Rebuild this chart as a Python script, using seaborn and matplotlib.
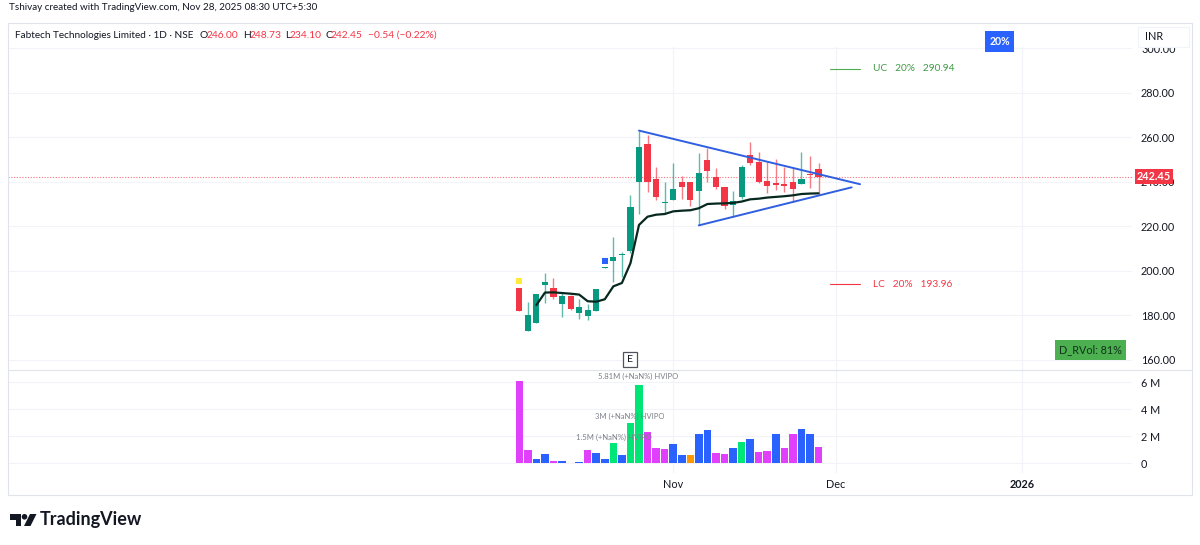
import matplotlib
matplotlib.use("Agg")
import matplotlib.pyplot as plt
from matplotlib.patches import Rectangle, Polygon, Circle
import seaborn as sns
import pandas as pd

sns.set_theme(style="white")
FONT = "Lato"
plt.rcParams["font.family"] = [FONT, "DejaVu Sans"]

opens = [192.2,173.0,176.4,193.9,192.4,185.3,188.6,181.1,179.9,181.9,201.5,204.7,207.2,209.0,239.9,257.2,241.4,230.7,
         231.9,240.0,240.0,236.1,250.0,242.1,237.9,229.5,233.1,252.1,249.1,240.6,239.4,239.1,240.0,239.3,243.8,246.0]
highs = [192.4,185.9,189.5,199.0,197.0,190.7,189.2,187.3,185.2,192.0,201.9,215.1,208.5,234.2,263.0,261.1,246.9,240.2,
         248.7,242.7,240.0,253.0,255.1,246.1,237.9,236.1,247.6,258.1,253.6,248.8,250.2,246.9,246.1,253.3,251.7,248.73]
lows = [182.0,173.0,176.4,185.5,187.3,179.2,182.5,178.6,178.0,181.9,201.4,194.9,197.5,208.2,225.5,235.7,231.9,226.2,
        231.9,232.4,229.2,220.5,240.0,236.7,227.7,224.4,232.2,247.6,239.4,234.9,236.4,235.7,231.2,239.1,237.2,234.10]
closes = [182.2,180.2,189.5,194.9,188.2,188.6,182.8,184.0,182.5,192.0,201.8,206.2,207.5,228.8,255.6,239.9,233.1,231.0,
          236.7,237.8,232.1,244.2,244.9,237.9,229.2,231.6,246.6,248.4,240.2,238.2,238.7,238.4,236.9,241.2,243.0,242.45]
vwap_start = 2
vwap = [184.7,190.3,190.4,190.1,189.8,189.4,186.4,186.2,187.3,193.1,194.6,203.5,220.7,224.4,225.3,225.6,226.8,
        227.1,227.3,228.2,230.1,230.3,230.4,230.6,231.2,232.2,232.5,233.0,233.3,233.6,234.0,234.6,234.8,234.9]
volumes = [6.05,0.99,0.30,0.69,0.15,0.12,0.03,0.08,0.99,0.74,0.32,1.50,0.60,3.00,5.81,2.30,1.10,1.04,
           1.43,0.59,0.59,2.12,2.47,0.74,0.64,1.09,1.58,1.78,0.79,0.89,2.17,1.09,2.12,2.52,2.12,1.19]
vol_kind = ["m","m","b","b","m","b","m","b","m","b","b","g","b","g","g","m","m","m",
            "b","b","o","b","b","m","m","b","g","b","m","m","b","m","m","b","b","m"]
price_ticks = [160, 180, 200, 220, 240, 260, 280, 300]
vol_ticks = [0, 2, 4, 6]
vol_labels = ["0", "2 M", "4 M", "6 M"]
date_pos = [18, 37, 58.8]
date_labels = ["Nov", "Dec", "2026"]
upper_x, upper_y = [14, 39.85], [263.1, 239.0]
lower_x, lower_y = [21, 38.87], [220.5, 237.6]
last_price = 242.45
uc_price, lc_price = 290.94, 193.96

W, H = 1200, 545
XMIN, XMAX = -59.8, 71.66
GREEN, RED, BLUE = "#089981", "#F23645", "#2F5FE0"
GRID = "#F1F3F8"
TXT = "#131722"

def box(l, t, r, b):
    return [l / W, 1 - b / H, (r - l) / W, (b - t) / H]

fig = plt.figure(figsize=(12, 5.45), dpi=100, facecolor="white")
ax = fig.add_axes(box(8, 47, 1132, 370))
axv = fig.add_axes(box(8, 370, 1132, 473))

df = pd.DataFrame({"i": range(len(opens)), "o": opens, "h": highs, "l": lows, "c": closes,
                   "v": volumes, "k": vol_kind})
df["col"] = [GREEN if c >= o else RED for o, c in zip(df.o, df.c)]
df["bot"] = df[["o", "c"]].min(axis=1)
df["hgt"] = (df.o - df.c).abs().clip(lower=0.35)

# candles
ax.vlines(df.i, df.l, df.h, colors=df.col, linewidth=1.0, alpha=0.65, zorder=3)
ax.bar(df.i, df.hgt, bottom=df.bot, width=0.72, color=df.col, linewidth=0, zorder=4)

# VWAP-like line
vw = pd.DataFrame({"i": range(vwap_start, vwap_start + len(vwap)), "p": vwap})
sns.lineplot(data=vw, x="i", y="p", color="#06281f", linewidth=1.6, ax=ax, zorder=5, errorbar=None)

# triangle
ax.plot(upper_x, upper_y, color=BLUE, lw=1.4, zorder=6, solid_capstyle="round")
ax.plot(lower_x, lower_y, color=BLUE, lw=1.4, zorder=6, solid_capstyle="round")

# last price line
ax.axhline(last_price, color=RED, lw=0.8, ls=(0, (1, 1.5)), alpha=0.7, zorder=2)

# markers
ax.scatter([0], [195.5], marker="s", s=14, color="#FFE93B", linewidth=0, zorder=6)
ax.scatter([10], [204.5], marker="s", s=14, color="#2962FF", linewidth=0, zorder=6)

# UC / LC
ax.plot([36.3, 39.8], [uc_price, uc_price], color="#4CAF50", lw=0.8)
ax.plot([36.3, 39.8], [lc_price, lc_price], color=RED, lw=0.8)
ax.text(41.4, uc_price, f"UC   20%   {uc_price:.2f}", color="#3E9B45", fontsize=7.3, va="center")
ax.text(41.4, lc_price, f"LC   20%   {lc_price:.2f}", color=RED, fontsize=7.3, va="center")

ax.set_xlim(XMIN, XMAX)
ax.set_ylim(155.5, 300.67)
ax.set_yticks(price_ticks)
ax.set_yticklabels([f"{p:.2f}" for p in price_ticks])
ax.yaxis.tick_right()
ax.set_xticks(date_pos)
ax.set_xticklabels([])
ax.set_xlabel("")
ax.set_ylabel("")
ax.grid(True, color=GRID, lw=0.8)
ax.set_axisbelow(True)
ax.tick_params(axis="both", length=0, labelsize=7.8, labelcolor=TXT, pad=6.5)

# volume
pal = {"m": "#E040FB", "b": "#2962FF", "g": "#00E676", "o": "#FF9800"}
sns.barplot(data=df, x="i", y="v", hue="k", palette=pal, dodge=False, native_scale=True, saturation=1,
            width=0.88, legend=False, ax=axv, linewidth=0, zorder=3)
axv.set_xlim(XMIN, XMAX)
axv.set_ylim(-0.74, 6.89)
axv.set_yticks(vol_ticks)
axv.set_yticklabels(vol_labels)
axv.yaxis.tick_right()
axv.set_xticks(date_pos)
axv.set_xticklabels(date_labels)
axv.set_xlabel("")
axv.set_ylabel("")
axv.grid(True, color=GRID, lw=0.8)
axv.set_axisbelow(True)
axv.tick_params(axis="y", length=0, labelsize=7.8, labelcolor=TXT, pad=6.5)
axv.tick_params(axis="x", length=0, labelsize=7.8, labelcolor=TXT, pad=4)
for lbl in axv.get_xticklabels()[-1:]:
    lbl.set_fontweight("bold")

for a in (ax, axv):
    for s in a.spines.values():
        s.set_visible(False)

# overlay in pixel coordinates for the chart furniture
ov = fig.add_axes([0, 0, 1, 1], facecolor="none")
ov.set_xlim(0, W)
ov.set_ylim(H, 0)
ov.axis("off")
ov.add_patch(Rectangle((8, 23), 1184, 472, fill=False, ec="#E0E3EB", lw=0.8))
ov.plot([8, 1192], [370, 370], color="#E0E3EB", lw=0.8)

ov.text(9, 7.5, "Tshivay created with TradingView.com, Nov 28, 2025 08:30 UTC+5:30",
        fontsize=7.1, color=TXT, va="center")
ov.text(15, 35, "Fabtech Technologies Limited · 1D · NSE", fontsize=7.2, color=TXT, va="center")
hdr = [(200, "O", TXT), (207, "246.00", RED), (243, "H", TXT), (249.5, "248.73", RED),
       (285, "L", TXT), (290, "234.10", RED), (325, "C", TXT), (331, "242.45", RED),
       (368, "−0.54 (−0.22%)", RED)]
for x, s, c in hdr:
    ov.text(x, 35, s, fontsize=7.4, color=c, va="center")

ov.add_patch(Rectangle((985, 31), 29, 21, fc="#2962FF", ec="none"))
ov.text(999.5, 41.5, "20%", color="white", fontsize=7.6, fontweight="bold", ha="center", va="center")
ov.add_patch(Rectangle((1138, 27), 51, 20, fc="white", ec="#F0F3FA", lw=0.8, zorder=5))
ov.text(1145, 36.5, "INR", color=TXT, fontsize=7.8, va="center", zorder=6)

ov.add_patch(Rectangle((1135, 169), 38, 15, fc=RED, ec="none", zorder=5))
ov.text(1154, 176.8, f"{last_price:.2f}", color="white", fontsize=7.8, fontweight="bold",
        ha="center", va="center", zorder=6)
ov.add_patch(Rectangle((1055, 340), 71, 20, fc="#4CAF50", ec="none"))
ov.text(1090.5, 350, "D_RVol: 81%", color="#10331a", fontsize=7.8, ha="center", va="center")

ov.add_patch(Rectangle((622.5, 351.5), 14.5, 15, fc="white", ec="#50535E", lw=0.9))
ov.text(629.8, 359, "E", color=TXT, fontsize=7.5, ha="center", va="center")

gray = "#7b7f88"
ov.text(638.5, 376, "5.81M (+NaN%) HVIPO", color=gray, fontsize=5.5, ha="center", va="center")
ov.text(630, 416, "3M (+NaN%) HVIPO", color=gray, fontsize=5.5, ha="center", va="center")
ov.text(576, 437, "1.5M (+NaN%) HVIPO", color=gray, fontsize=5.5, ha="left", va="center")

# logo
ov.add_patch(Polygon([(10, 514), (21, 514), (21, 526), (15.5, 526), (15.5, 519.5), (10, 519.5)], fc=TXT, ec="none"))
ov.add_patch(Circle((24.5, 516.8), 2.8, fc=TXT, ec="none"))
ov.add_patch(Polygon([(30, 514), (36.5, 514), (30.5, 526), (24, 526)], fc=TXT, ec="none"))
ov.text(40, 520, "TradingView", color=TXT, fontsize=13, fontweight="bold", va="center")

fig.savefig("out.png", dpi=100)
